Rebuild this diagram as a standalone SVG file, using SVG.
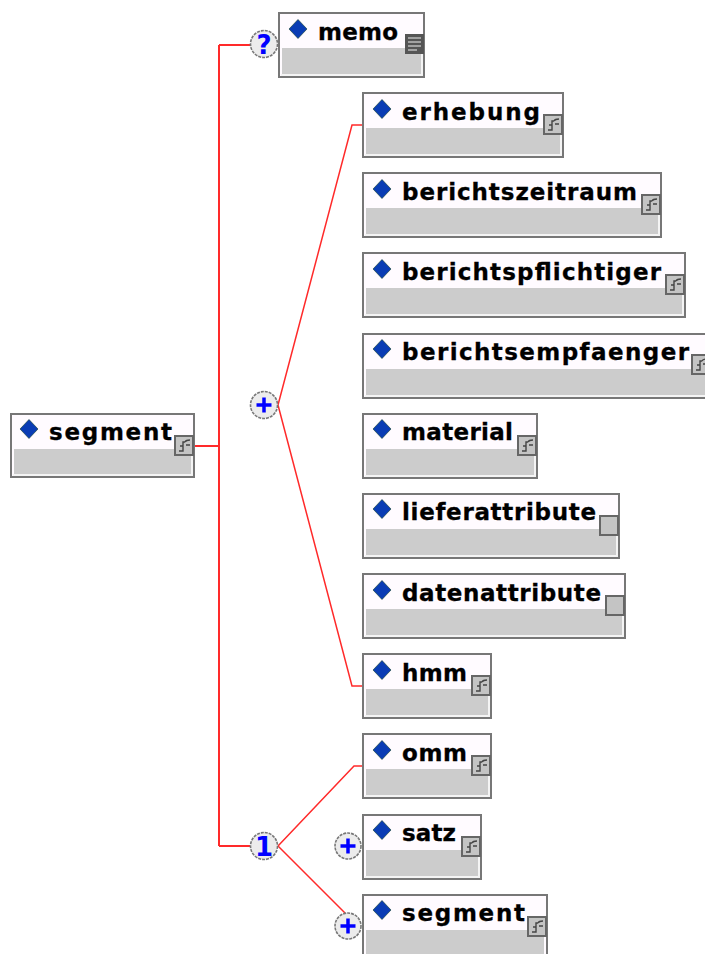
<svg xmlns="http://www.w3.org/2000/svg" width="705" height="954" viewBox="0 0 705 954">
<style>
.o{fill:#fffbff;stroke:#777;stroke-width:2}
.g{fill:#ccc}
.h{fill:none;stroke:#f4f4f4;stroke-width:2}
.d{fill:#0a3cb4;stroke:#12402a;stroke-width:.6}
.t{font-family:"DejaVu Sans",sans-serif;font-weight:700;font-size:23px;fill:#000;stroke:#000;stroke-width:.3}
.i{fill:#c4c4c4;stroke:#666;stroke-width:2}
.l{fill:none;stroke:#444;stroke-width:1.4}
.c{fill:none;stroke:#ff2a2a;stroke-width:2}
.c2{fill:none;stroke:#ff2a2a;stroke-width:1.5}
.b{fill:#ececec;stroke:#777;stroke-width:1.6;stroke-dasharray:3 1}
.s{font-family:"DejaVu Sans",sans-serif;font-weight:700;font-size:26px;fill:#0000ff;text-anchor:middle}
</style>
<defs>
<g id="ref"><rect class="i" x="0" y="0" width="18" height="19"/><path class="l" d="M4 15H8V6H10M8 10H5M10 6Q11 4 15 4M11 9H15"/></g>
<g id="plain"><rect class="i" x="0" y="0" width="18" height="19"/></g>
<g id="doc"><rect x="0" y="0" width="19" height="20" fill="#555"/><path d="M3 4H16M3 8H16M3 12H16M3 16H12" stroke="#bbb" stroke-width="1.5"/></g>
<path id="dia" class="d" d="M0 -9.500L9 0L0 9.500L-9 0Z"/>
<path id="plus" d="M-7.500 0H7.500M0 -7.500V7.500" stroke="#0000ff" stroke-width="3.500" fill="none"/>
</defs>
<g id="connectors">
<path class="c" d="M194 446H219M219 45V846M219 45H250M219 846H250"/>
<path class="c2" d="M278 405L352 125H363M278 405L352 686H363"/>
<path class="c2" d="M278 846L354 766H363M278 846L345 913"/>
</g>
<g id="node-segment-root"><rect class="o" x="11" y="414" width="183" height="63"/><rect class="g" x="14" y="449" width="177" height="26"/><path class="h" d="M13 475H192V448"/><use href="#dia" x="29" y="429"/><text class="t" x="49" y="440" textLength="123">segment</text><use href="#ref" x="175" y="436"/></g>
<g id="node-memo"><rect class="o" x="279" y="13" width="145" height="64"/><rect class="g" x="282" y="48" width="139" height="26"/><path class="h" d="M281 75H422V48"/><use href="#dia" x="298" y="29"/><text class="t" x="318" y="40" textLength="80">memo</text><use href="#doc" x="405" y="34"/></g>
<g id="node-erhebung"><rect class="o" x="363" y="93" width="200" height="64"/><rect class="g" x="366" y="128" width="194" height="26"/><path class="h" d="M365 155H561V128"/><use href="#dia" x="382" y="109"/><text class="t" x="402" y="120" textLength="138">erhebung</text><use href="#ref" x="544" y="115"/></g>
<g id="node-berichtszeitraum"><rect class="o" x="363" y="173" width="298" height="64"/><rect class="g" x="366" y="208" width="292" height="26"/><path class="h" d="M365 235H659V208"/><use href="#dia" x="382" y="189"/><text class="t" x="402" y="200" textLength="235">berichtszeitraum</text><use href="#ref" x="642" y="195"/></g>
<g id="node-berichtspflichtiger"><rect class="o" x="363" y="253" width="322" height="64"/><rect class="g" x="366" y="288" width="316" height="26"/><path class="h" d="M365 315H683V288"/><use href="#dia" x="382" y="269"/><text class="t" x="402" y="280" textLength="259">berichtspflichtiger</text><use href="#ref" x="666" y="275"/></g>
<g id="node-berichtsempfaenger"><rect class="o" x="363" y="334" width="343" height="64"/><rect class="g" x="366" y="369" width="339" height="26"/><path class="h" d="M365 396H705"/><use href="#dia" x="382" y="349"/><text class="t" x="402" y="360" textLength="287">berichtsempfaenger</text><use href="#ref" x="692" y="355"/></g>
<g id="node-material"><rect class="o" x="363" y="414" width="174" height="64"/><rect class="g" x="366" y="449" width="168" height="26"/><path class="h" d="M365 476H535V449"/><use href="#dia" x="382" y="429"/><text class="t" x="402" y="440" textLength="111">material</text><use href="#ref" x="518" y="436"/></g>
<g id="node-lieferattribute"><rect class="o" x="363" y="494" width="256" height="64"/><rect class="g" x="366" y="529" width="250" height="26"/><path class="h" d="M365 556H617V529"/><use href="#dia" x="382" y="509"/><text class="t" x="402" y="520" textLength="194">lieferattribute</text><use href="#plain" x="600" y="516"/></g>
<g id="node-datenattribute"><rect class="o" x="363" y="574" width="262" height="64"/><rect class="g" x="366" y="609" width="256" height="26"/><path class="h" d="M365 636H623V609"/><use href="#dia" x="382" y="590"/><text class="t" x="402" y="601" textLength="199">datenattribute</text><use href="#plain" x="606" y="596"/></g>
<g id="node-hmm"><rect class="o" x="363" y="654" width="128" height="64"/><rect class="g" x="366" y="689" width="122" height="26"/><path class="h" d="M365 716H489V689"/><use href="#dia" x="382" y="670"/><text class="t" x="402" y="681" textLength="65">hmm</text><use href="#ref" x="472" y="676"/></g>
<g id="node-omm"><rect class="o" x="363" y="734" width="128" height="64"/><rect class="g" x="366" y="769" width="122" height="26"/><path class="h" d="M365 796H489V769"/><use href="#dia" x="382" y="750"/><text class="t" x="402" y="761" textLength="65">omm</text><use href="#ref" x="472" y="756"/></g>
<g id="node-satz"><rect class="o" x="363" y="815" width="118" height="64"/><rect class="g" x="366" y="850" width="112" height="26"/><path class="h" d="M365 877H479V850"/><use href="#dia" x="382" y="830"/><text class="t" x="402" y="841" textLength="54">satz</text><use href="#ref" x="462" y="837"/><circle class="b" cx="348" cy="846" r="13"/><use href="#plus" x="348" y="846"/></g>
<g id="node-segment"><rect class="o" x="363" y="895" width="184" height="64"/><rect class="g" x="366" y="930" width="178" height="26"/><use href="#dia" x="382" y="910"/><text class="t" x="402" y="921" textLength="123">segment</text><use href="#ref" x="528" y="917"/><circle class="b" cx="348" cy="926" r="13"/><use href="#plus" x="348" y="926"/></g>
<g id="compositor-optional"><circle class="b" cx="264" cy="44" r="13.500"/><text class="s" x="264" y="54">?</text></g>
<g id="compositor-sequence"><circle class="b" cx="264" cy="405" r="13.500"/><use href="#plus" x="264" y="405"/></g>
<g id="compositor-choice"><circle class="b" cx="264" cy="846" r="13.500"/><text class="s" x="264" y="856">1</text></g>
</svg>
